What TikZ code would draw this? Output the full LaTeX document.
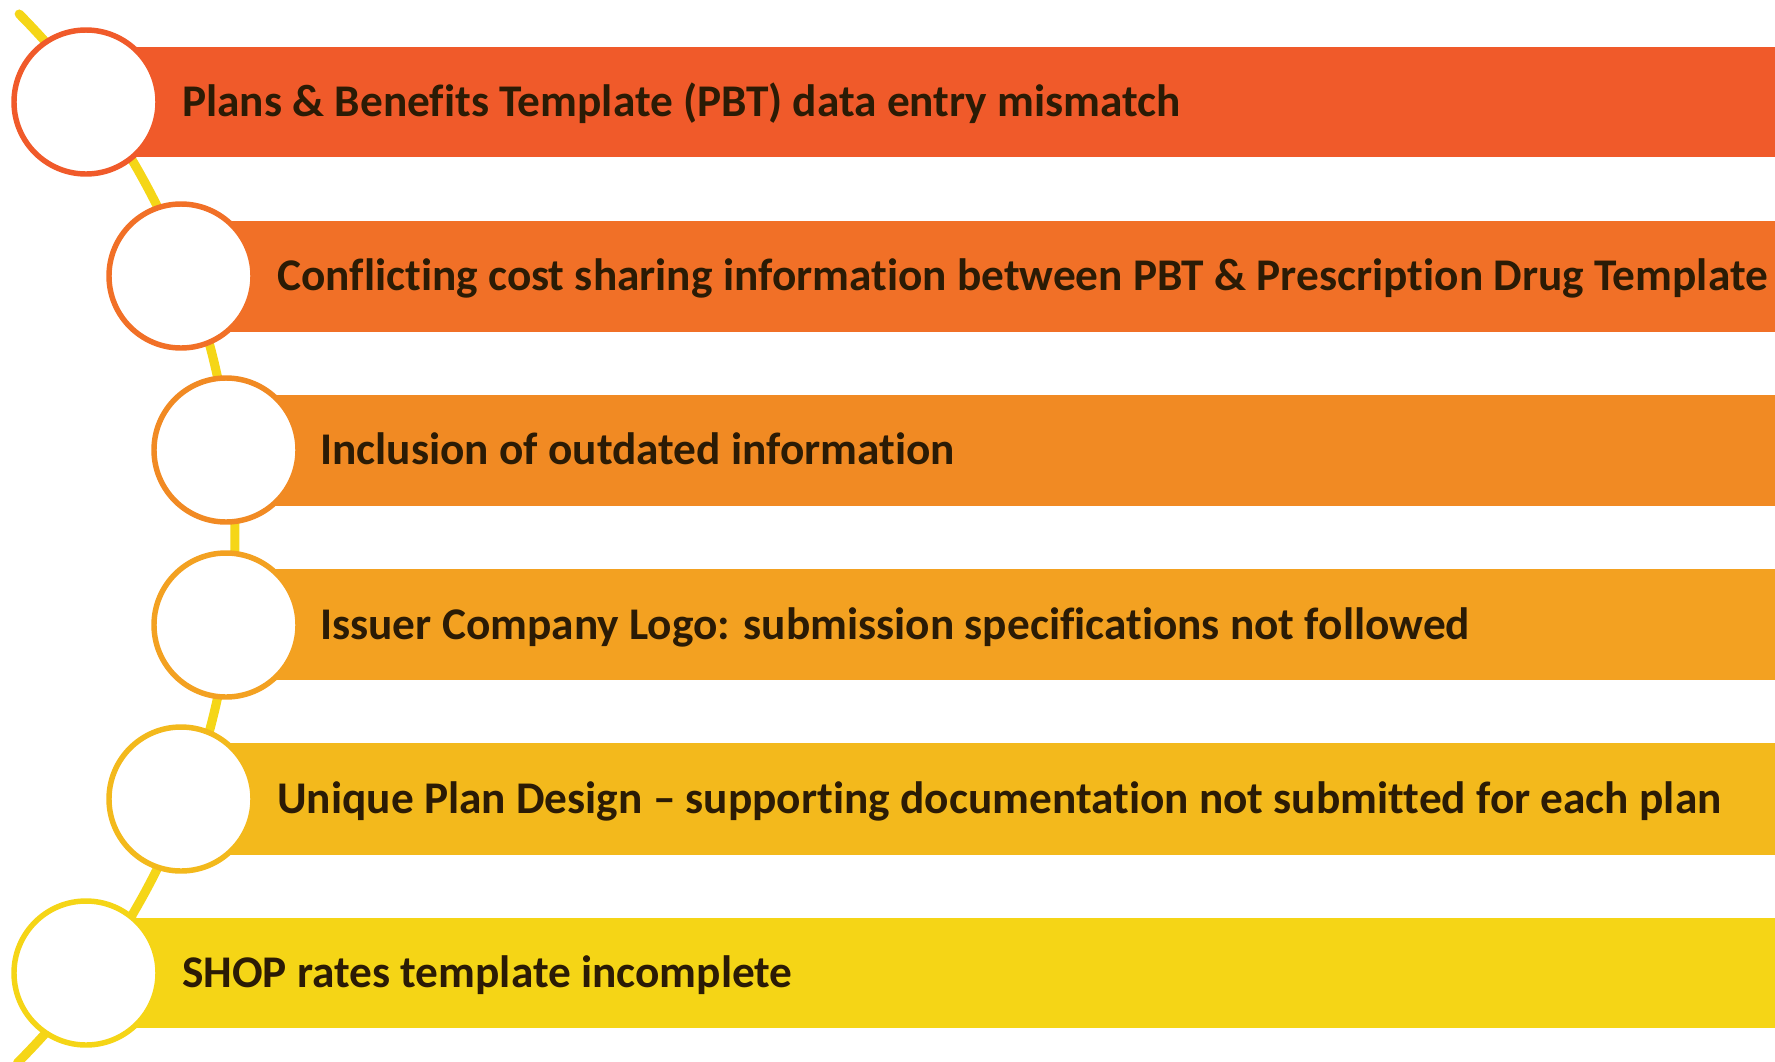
\documentclass[tikz,border=0pt]{standalone}
\usepackage{fontspec}
\setmainfont[Ligatures=NoCommon]{Carlito}
\usepackage{xcolor}
\usepackage{tikz}

\definecolor{stepA}{RGB}{240,90,42}
\definecolor{stepB}{RGB}{241,112,39}
\definecolor{stepC}{RGB}{241,138,35}
\definecolor{stepD}{RGB}{243,161,33}
\definecolor{stepE}{RGB}{243,185,28}
\definecolor{stepF}{RGB}{245,213,22}
\definecolor{spine}{RGB}{245,214,23}
\definecolor{ink}{RGB}{43,27,5}

\tikzset{
  ring/.style={circle, draw=#1, fill=white, line width=4.1pt, minimum size=108pt, inner sep=0pt},
  itemtext/.style={anchor=base west, inner sep=0pt, text=ink, font=\fontsize{34}{40}\selectfont\bfseries},
}

\begin{document}
\begin{tikzpicture}[x=0.75pt,y=0.75pt,yscale=-1,xscale=1]
\useasboundingbox (0,0) rectangle (1775,1061);
% yellow spine behind the rings
\draw [spine, line width=6.8pt, line cap=round] (-508,537.5) ++(-44.8:743) arc (-44.8:45:743);
% coloured bars
\fill [stepA] (86,47) rectangle (1775,157);
\fill [stepB] (181,221) rectangle (1775,332);
\fill [stepC] (226,395) rectangle (1775,506);
\fill [stepD] (226,569) rectangle (1775,680);
\fill [stepE] (181,743) rectangle (1775,855);
\fill [stepF] (86,918) rectangle (1775,1028);
% rings
\node [ring=stepA] (c1) at (86,102) {};
\node [ring=stepB] (c2) at (181,276) {};
\node [ring=stepC] (c3) at (226,450) {};
\node [ring=stepD] (c4) at (226,625) {};
\node [ring=stepE] (c5) at (181,799) {};
\node [ring=stepF] (c6) at (86,973) {};
% Text Node
\node [itemtext] (t1) at (182,116) {Plans \& Benefits Template (PBT) data entry mismatch};
% Text Node
\node [itemtext] (t2) at (277,290) {Conflicting cost sharing information between PBT \& Prescription Drug Template};
% Text Node
\node [itemtext] (t3) at (320,464) {Inclusion of outdated information};
% Text Node
\node [itemtext] (t4) at (320,639) {Issuer Company Logo: submission specifications not followed};
% Text Node
\node [itemtext] (t5) at (277,813) {Unique Plan Design -- supporting documentation not submitted for each plan};
% Text Node
\node [itemtext] (t6) at (182,987) {SHOP rates template incomplete};
\end{tikzpicture}
\end{document}
